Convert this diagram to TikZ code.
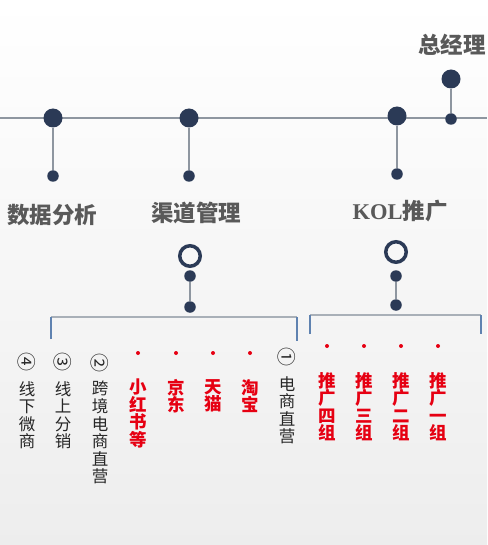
\documentclass[tikz,border=0pt]{standalone}
\usepackage{fontspec}
\usepackage{graphicx}
\newfontfamily\cjk{Noto Sans CJK SC}
\newfontfamily\kolfont{Liberation Serif}
\definecolor{navy}{HTML}{2B3A56}
\definecolor{stemgray}{HTML}{8E96A0}
\definecolor{bracegray}{HTML}{A9B0B8}
\definecolor{braceblue}{HTML}{5F82B0}
\definecolor{titlegray}{HTML}{595959}
\definecolor{grpred}{HTML}{E60012}

\begin{document}
\begin{tikzpicture}[x=1pt,y=-1pt,
  bigdot/.style={circle,fill=navy,inner sep=0,minimum size=19pt},
  smalldot/.style={circle,fill=navy,inner sep=0,minimum size=11.5pt},
  ring/.style={circle,draw=navy,line width=3.5pt,inner sep=0,minimum size=20.5pt},
  reddot/.style={circle,fill=grpred,inner sep=0,minimum size=4pt},
  stem/.style={stemgray,line width=2pt},
  title/.style={font=\cjk\bfseries\fontsize{22.5}{24}\selectfont,text=titlegray,inner sep=0},
  vred/.style={font=\cjk\bfseries\fontsize{17.5}{17.5}\selectfont,text=grpred,align=center,anchor=north,inner sep=0},
  vblack/.style={font=\cjk\fontsize{16.5}{17.6}\selectfont,text=black!85,align=center,anchor=north,inner sep=0},
  vnum/.style={font=\cjk\fontsize{19}{19}\selectfont,text=black!85,rotate=-90,inner sep=0}]
\fill[top color=white,bottom color=black!7] (0,0) rectangle (487,545);
\useasboundingbox (0,0) rectangle (487,545);

\coordinate (lineL) at (0,118);
\coordinate (lineR) at (487,118);
\draw[stem] (lineL) -- (lineR);

\node[bigdot] (boss) at (451,79) {};
\node[smalldot] (bossfoot) at (451,119) {};
\draw[stem] (boss) -- (bossfoot);
\node[title] (bosslabel) at (452,45) {总经理};

\node[bigdot] (data) at (53,118) {};
\node[smalldot] (datafoot) at (53,176) {};
\draw[stem] (data) -- (datafoot);
\node[title] (datalabel) at (52,215) {数据分析};

\node[bigdot] (chan) at (189,118) {};
\node[smalldot] (chanfoot) at (189,176) {};
\draw[stem] (chan) -- (chanfoot);
\node[title] (chanlabel) at (196,213) {渠道管理};

\node[bigdot] (kol) at (397,116) {};
\node[smalldot] (kolfoot) at (397,174) {};
\draw[stem] (kol) -- (kolfoot);
\node[title] (kollabel) at (400,211) {{\kolfont\bfseries KOL}推广};

\node[ring] (chanring) at (190,256) {};
\node[smalldot] (chanknob) at (190,276) {};
\node[smalldot] (chantop) at (190,307) {};
\draw[stem] (chanknob) -- (chantop);

\node[ring] (kolring) at (396,252) {};
\node[smalldot] (kolknob) at (396,276) {};
\node[smalldot] (koltop) at (396,305) {};
\draw[stem] (kolknob) -- (koltop);

\coordinate (chanBL) at (51,339);
\coordinate (chanTL) at (51,317);
\coordinate (chanTR) at (297,317);
\coordinate (chanBR) at (297,341);
\draw[bracegray,line width=2pt] (chanTL) -- (chanTR);
\draw[braceblue,line width=1.6pt] (chanBL) -- (chanTL) (chanTR) -- (chanBR);

\coordinate (kolBL) at (310,334);
\coordinate (kolTL) at (310,315);
\coordinate (kolTR) at (481,315);
\coordinate (kolBR) at (481,334);
\draw[bracegray,line width=2pt] (kolTL) -- (kolTR);
\draw[braceblue,line width=1.6pt] (kolBL) -- (kolTL) (kolTR) -- (kolBR);

\node[vnum] (n4) at (27,362) {④};
\node[vblack] (weishang) at (27,381) {线\\下\\微\\商};
\node[vnum] (n3) at (63,362) {③};
\node[vblack] (fenxiao) at (63,381) {线\\上\\分\\销};
\node[vnum] (n2) at (100,363) {②};
\node[vblack] (kuajing) at (100,381) {跨\\境\\电\\商\\直\\营};
\node[vnum] (n1) at (287,357) {①};
\node[vblack] (dianshang) at (287,376) {电\\商\\直\\营};

\node[reddot] (p1) at (138,353) {};
\node[reddot] (p2) at (176,353) {};
\node[reddot] (p3) at (213,353) {};
\node[reddot] (p4) at (250,353) {};
\node[vred] (xhs) at (138,379) {小\\红\\书\\等};
\node[vred] (jd) at (176,379) {京\\东};
\node[vred] (tm) at (213,379) {天\\猫};
\node[vred] (tb) at (250,379) {淘\\宝};

\node[reddot] (q4) at (327,346) {};
\node[reddot] (q3) at (364,346) {};
\node[reddot] (q2) at (401,346) {};
\node[reddot] (q1) at (438,346) {};
\node[vred] (g4) at (327,372) {推\\广\\四\\组};
\node[vred] (g3) at (364,372) {推\\广\\三\\组};
\node[vred] (g2) at (401,372) {推\\广\\二\\组};
\node[vred] (g1) at (438,372) {推\\广\\一\\组};
\end{tikzpicture}
\end{document}
